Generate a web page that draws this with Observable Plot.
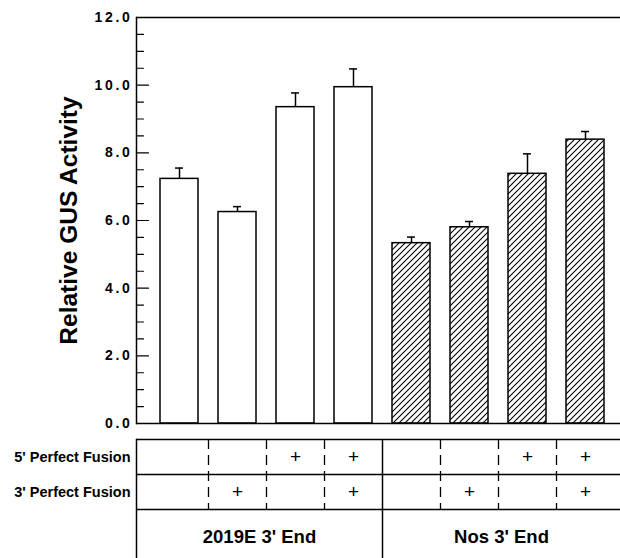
<!DOCTYPE html>
<html>
<head>
<meta charset="utf-8">
<script src="https://cdn.jsdelivr.net/npm/d3@7"></script>
<script src="https://cdn.jsdelivr.net/npm/@observablehq/plot@0.6"></script>
<style>
  body { margin: 0; background: #fff; }
  #chart svg { display: block; }
</style>
</head>
<body>
<div id="chart"></div>
<script>
// ---- data ----
const conditions = ["E-none", "E-3", "E-5", "E-53", "N-none", "N-3", "N-5", "N-53"];
const groupOf = [0, 0, 0, 0, 1, 1, 1, 1];
const values = [7.23, 6.25, 9.35, 9.94, 5.33, 5.80, 7.38, 8.39];
const errors = [0.32, 0.16, 0.42, 0.54, 0.18, 0.17, 0.59, 0.24];
const fusion5 = [false, false, true, true, false, false, true, true];
const fusion3 = [false, true, false, true, false, true, false, true];
const rowLabels = ["5' Perfect Fusion", "3' Perfect Fusion"];
const groupLabels = ["2019E 3' End", "Nos 3' End"];
const yLabel = "Relative GUS Activity";
const yTicks = [0, 2, 4, 6, 8, 10, 12];
const yMinorTicks = [0.5, 1, 1.5, 2.5, 3, 3.5, 4.5, 5, 5.5, 6.5, 7, 7.5, 8.5, 9, 9.5, 10.5, 11, 11.5];

const data = conditions.map((id, i) => ({
  id, group: groupOf[i], value: values[i], err: errors[i], f5: fusion5[i], f3: fusion3[i]
}));

const font = "'Liberation Sans', Arial, Helvetica, sans-serif";
const xScale = {type: "band", domain: conditions, range: [149.5, 615], paddingInner: 0.345, paddingOuter: 0.1725, axis: null};
const tickShape = {draw(context, l) { context.moveTo(0, 0); context.lineTo(0, -l); }};

// ---- main chart ----
const plot1 = Plot.plot({
  width: 620,
  height: 425,
  marginTop: 17,
  marginBottom: 2,
  marginLeft: 136,
  marginRight: 0,
  style: {fontFamily: font, fontSize: "14px", color: "black", background: "white", overflow: "visible"},
  x: xScale,
  y: {domain: [0, 12], axis: null},
  marks: [
    Plot.barY(data.filter(d => d.group === 0), {x: "id", y: "value", fill: "white", stroke: "black", strokeWidth: 1.5}),
    Plot.barY(data.filter(d => d.group === 1), {x: "id", y: "value", fill: "url(#hatch)", stroke: "black", strokeWidth: 1.5}),
    Plot.ruleX(data, {x: "id", y1: "value", y2: d => d.value + d.err, stroke: "black", strokeWidth: 1.5}),
    Plot.tickY(data, {x: "id", y: d => d.value + d.err, insetLeft: 15, insetRight: 15, stroke: "black", strokeWidth: 1.5}),
    Plot.ruleY([0, 12], {stroke: "black", strokeWidth: 1.5}),
    Plot.frame({anchor: "left", stroke: "black", strokeWidth: 1.5}),
    Plot.vector(yTicks, {y: d => d, frameAnchor: "left", rotate: 90, length: 12, anchor: "start", shape: tickShape, stroke: "black", strokeWidth: 1.2}),
    Plot.vector(yMinorTicks, {y: d => d, frameAnchor: "left", rotate: 90, length: 7, anchor: "start", shape: tickShape, stroke: "black", strokeWidth: 1.2}),
    Plot.axisY(yTicks, {tickSize: 0, tickPadding: 4, tickFormat: d3.format(".1f"), fontSize: 14, fontWeight: "bold", label: null}),
    Plot.text([yLabel], {frameAnchor: "left", textAnchor: "middle", rotate: -90, dx: -67, fontSize: 24.5, fontWeight: "bold", fill: "black"})
  ]
});

// hatch pattern
const svg1 = d3.select(plot1);
const defs = svg1.insert("defs", ":first-child");
const pat = defs.append("pattern").attr("id", "hatch").attr("patternUnits", "userSpaceOnUse").attr("width", 6).attr("height", 6);
pat.append("rect").attr("width", 6).attr("height", 6).attr("fill", "white");
pat.append("path").attr("d", "M-1,1 L1,-1 M0,6 L6,0 M5,7 L7,5").attr("stroke", "black").attr("stroke-width", 1.1);
svg1.selectAll('g[aria-label="y-axis tick label"] text').style("letter-spacing", "2.7px");

const xs = plot1.scale("x");
const step = xs.step;
const bw = xs.bandwidth;
const leftEdge = 136;
const dividerPx = xs.apply(conditions[3]) + bw + (step - bw) / 2;
const g1Center = (leftEdge + dividerPx) / 2;
const g2Center = (dividerPx + 620) / 2;
const g1dx = g1Center - (xs.apply(conditions[1]) + bw / 2);
const g2dx = g2Center - (xs.apply(conditions[5]) + bw / 2);

// ---- condition table ----
const dashedIds = conditions.filter((c, i) => i !== 3 && i !== conditions.length - 1);
const plot2 = Plot.plot({
  width: 620,
  height: 133,
  marginTop: 14,
  marginBottom: 0,
  marginLeft: 136,
  marginRight: 0,
  style: {fontFamily: font, fontSize: "14px", color: "black", background: "white", overflow: "visible"},
  x: xScale,
  y: {domain: [0, 3.4], reverse: true, axis: null},
  marks: [
    Plot.ruleY([0, 1, 2], {stroke: "black", strokeWidth: 1.5}),
    Plot.frame({anchor: "left", stroke: "black", strokeWidth: 1.5}),
    Plot.ruleX(dashedIds, {x: d => d, dx: step / 2, y1: 0, y2: 2, stroke: "black", strokeWidth: 1.3, strokeDasharray: "10,6"}),
    Plot.ruleX([conditions[3]], {x: d => d, dx: step / 2, y1: 0, y2: 3.4, stroke: "black", strokeWidth: 1.5}),
    Plot.text(data.filter(d => d.f5), {x: "id", y: 0.5, text: () => "+", fontSize: 19, fill: "black"}),
    Plot.text(data.filter(d => d.f3), {x: "id", y: 1.5, text: () => "+", fontSize: 19, fill: "black"}),
    Plot.text(rowLabels, {frameAnchor: "left", y: (d, i) => i + 0.5, dx: -6, textAnchor: "end", fontSize: 14.5, fontWeight: "bold", fill: "black"}),
    Plot.text([groupLabels[0]], {x: () => conditions[1], y: 2.8, dx: g1dx, fontSize: 18.5, fontWeight: "bold", fill: "black"}),
    Plot.text([groupLabels[1]], {x: () => conditions[5], y: 2.8, dx: g2dx, fontSize: 18.5, fontWeight: "bold", fill: "black"})
  ]
});

const chart = document.getElementById("chart");
chart.appendChild(plot1);
chart.appendChild(plot2);
</script>
</body>
</html>
